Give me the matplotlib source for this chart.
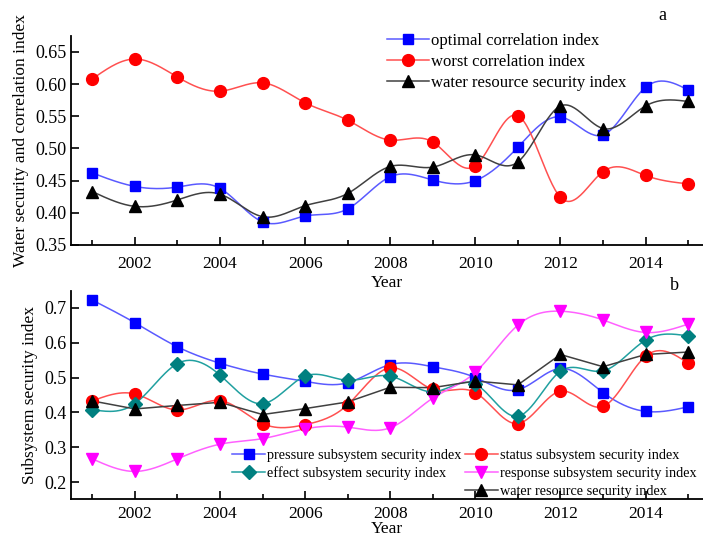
import numpy as np
import matplotlib.pyplot as plt
from matplotlib.ticker import MultipleLocator

plt.rcParams['font.family'] = ['Liberation Serif', 'DejaVu Serif']

years = np.arange(2001, 2016)

# panel a
optimal = [0.462, 0.441, 0.440, 0.438, 0.386, 0.395, 0.406, 0.456, 0.451, 0.450,
           0.502, 0.549, 0.521, 0.595, 0.591]
worst = [0.608, 0.639, 0.611, 0.589, 0.602, 0.571, 0.544, 0.513, 0.510, 0.473,
         0.551, 0.424, 0.464, 0.458, 0.445]
water = [0.433, 0.410, 0.420, 0.429, 0.394, 0.411, 0.430, 0.472, 0.471, 0.490,
         0.479, 0.566, 0.531, 0.566, 0.573]

# panel b
pressure = [0.722, 0.657, 0.588, 0.541, 0.510, 0.489, 0.485, 0.537, 0.531, 0.500,
            0.465, 0.526, 0.457, 0.403, 0.416]
status = [0.433, 0.453, 0.407, 0.434, 0.368, 0.365, 0.422, 0.528, 0.466, 0.457,
          0.368, 0.461, 0.417, 0.561, 0.541]
effect = [0.408, 0.425, 0.540, 0.507, 0.425, 0.504, 0.492, 0.504, 0.459, 0.481,
          0.389, 0.518, 0.519, 0.607, 0.619]
response = [0.267, 0.231, 0.267, 0.309, 0.325, 0.353, 0.358, 0.356, 0.441, 0.515,
            0.650, 0.690, 0.665, 0.629, 0.653]


def spline(x, y, n=400):
    # natural cubic spline through the points, for the smooth connecting line
    x = np.asarray(x, float)
    y = np.asarray(y, float)
    h = np.diff(x)
    m = len(x)
    A = np.zeros((m, m))
    r = np.zeros(m)
    A[0, 0] = A[-1, -1] = 1
    for i in range(1, m - 1):
        A[i, i - 1] = h[i - 1]
        A[i, i] = 2 * (h[i - 1] + h[i])
        A[i, i + 1] = h[i]
        r[i] = 6 * ((y[i + 1] - y[i]) / h[i] - (y[i] - y[i - 1]) / h[i - 1])
    M = np.linalg.solve(A, r)
    xs = np.linspace(x[0], x[-1], n)
    k = np.clip(np.searchsorted(x, xs) - 1, 0, m - 2)
    t0 = x[k + 1] - xs
    t1 = xs - x[k]
    hk = h[k]
    ys = (M[k] * t0 ** 3 + M[k + 1] * t1 ** 3) / (6 * hk) \
        + (y[k] / hk - M[k] * hk / 6) * t0 + (y[k + 1] / hk - M[k + 1] * hk / 6) * t1
    return xs, ys


def series(ax, y, lc, mc, marker, ms, label, smooth=True):
    if smooth:
        xs, ys = spline(years, y)
    else:
        xs, ys = years, y
    ax.plot(xs, ys, color=lc, lw=1.1, zorder=2)
    ax.plot(years, y, ls='none', marker=marker, ms=ms, color=mc, zorder=3)
    return ax.plot([], [], color=lc, lw=1.1, marker=marker, ms=ms,
                   mfc=mc, mec=mc, label=label)[0]


def style(ax, pad):
    for s in ['top', 'right']:
        ax.spines[s].set_visible(False)
    for s in ['left', 'bottom']:
        ax.spines[s].set_linewidth(1.3)
    ax.xaxis.set_major_locator(MultipleLocator(2))
    ax.xaxis.set_minor_locator(MultipleLocator(1))
    ax.tick_params(axis='x', which='major', direction='in', length=6, width=1.2,
                   labelsize=12.5, pad=pad)
    ax.tick_params(axis='x', which='minor', direction='in', length=3.5, width=1.2)
    ax.tick_params(axis='y', direction='in', length=6, width=1.2, labelsize=13)
    ax.set_xlim(2000.5, 2015.35)


fig = plt.figure(figsize=(7.03, 5.39), dpi=100)
ax1 = fig.add_axes([0.101, 0.5455, 0.899, 0.388])
ax2 = fig.add_axes([0.101, 0.0742, 0.899, 0.386])

h1 = series(ax1, optimal, '#5a5aff', '#0000ff', 's', 7.5, 'optimal correlation index')
h2 = series(ax1, worst, '#ff5050', '#ff0000', 'o', 8.5, 'worst correlation index')
h3 = series(ax1, water, '#404040', '#000000', '^', 8.5, 'water resource security index')
style(ax1, 8)
ax1.set_ylim(0.35, 0.675)
ax1.yaxis.set_major_locator(MultipleLocator(0.05))
ax1.yaxis.set_major_formatter('{x:.2f}')
ax1.set_xlabel('Year', fontsize=12.5, labelpad=2)
ax1.set_ylabel('Water security and correlation index', fontsize=12.5)
ax1.legend(handles=[h1, h2, h3], loc='upper left', bbox_to_anchor=(0.49, 1.045),
           frameon=False, fontsize=12, handlelength=2.5, handletextpad=0.1,
           labelspacing=0.3, borderaxespad=0)
fig.text(0.937, 0.963, 'a', fontsize=13)

g1 = series(ax2, pressure, '#5a5aff', '#0000ff', 's', 7.5, 'pressure subsystem security index')
g2 = series(ax2, status, '#ff5050', '#ff0000', 'o', 8.5, 'status subsystem security index')
g3 = series(ax2, effect, '#20a0a0', '#008080', 'D', 7.5, 'effect subsystem security index')
g4 = series(ax2, response, '#ff60ff', '#ff00ff', 'v', 8.5, 'response subsystem security index')
g5 = series(ax2, water, '#404040', '#000000', '^', 8.5, 'water resource security index',
            smooth=False)
style(ax2, 5)
ax2.set_ylim(0.152, 0.748)
ax2.yaxis.set_major_locator(MultipleLocator(0.1))
ax2.yaxis.set_major_formatter('{x:.1f}')
ax2.set_xlabel('Year', fontsize=12.5, labelpad=-1)
ax2.set_ylabel('Subsystem security index', fontsize=12.5)
kw = dict(frameon=False, fontsize=10.3, handlelength=2.3, handletextpad=0.15,
          labelspacing=0.35, borderaxespad=0, loc='upper left')
leg = ax2.legend(handles=[g1, g3], bbox_to_anchor=(0.246, 0.27), **kw)
ax2.add_artist(leg)
ax2.legend(handles=[g2, g4, g5], bbox_to_anchor=(0.614, 0.27), **kw)
fig.text(0.953, 0.462, 'b', fontsize=13)

fig.savefig('out.png', dpi=100)
